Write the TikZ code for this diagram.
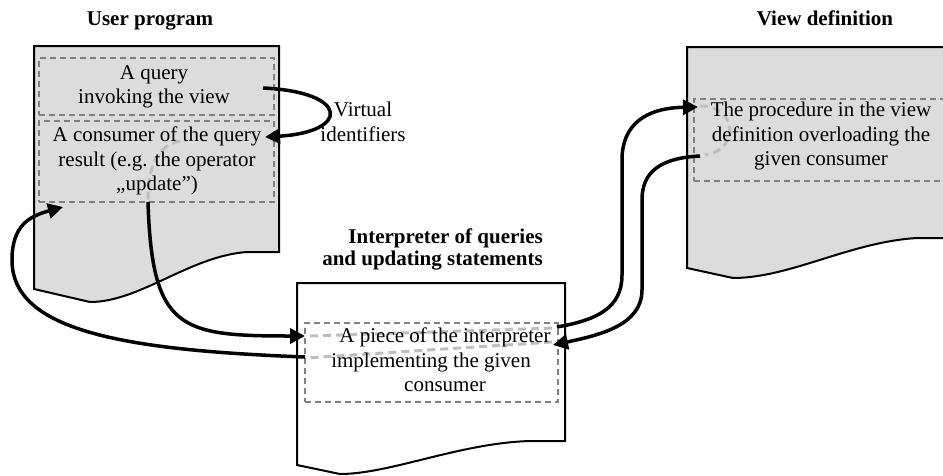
\documentclass[tikz,border=0pt]{standalone}
\usepackage{fontspec}
\setmainfont{Liberation Serif}
\usetikzlibrary{arrows.meta}
\definecolor{docgray}{HTML}{DCDCDC}
\definecolor{boxgray}{HTML}{808080}
\definecolor{flowgray}{HTML}{BEBEBE}
\begin{document}
\begin{tikzpicture}[x=1pt,y=-1pt,
  doc/.style={draw=black,line width=2pt,line join=miter},
  dbox/.style={draw=boxgray,line width=1.5pt,dash pattern=on 6pt off 4pt,inner sep=0pt},
  flow/.style={draw=flowgray,line width=3pt,dash pattern=on 8pt off 5pt},
  conn/.style={draw=black,line width=3.5pt,-{Triangle[length=15pt,width=15pt]}},
  txt/.style={font=\fontsize{21}{24.5}\selectfont,align=center,inner sep=0pt},
  ttl/.style={font=\fontsize{21}{22}\selectfont\bfseries,inner sep=0pt}]
\useasboundingbox (0,0) rectangle (943,475);

% documents
\filldraw[doc,fill=docgray] (34,46) -- (279,46) -- (279,252) -- (247,252)
  .. controls (190,256) and (140,302) .. (90,302) -- (34,289) -- cycle;
\filldraw[doc,fill=docgray] (687,47) -- (950,47) -- (950,238) -- (917,238)
  .. controls (850,242) and (790,278) .. (733,278) -- (687,268) -- cycle;
\filldraw[doc,fill=white] (297,283) -- (565,283) -- (565,441) -- (530,441)
  .. controls (460,443) and (390,474) .. (340,474) -- (297,465) -- cycle;

% titles
\node[ttl,anchor=base] (tuser) at (150,25) {User program};
\node[ttl,anchor=base] (tview) at (825,25) {View definition};
\node[ttl,align=right,anchor=east] (tint) at (543,249) {Interpreter of queries\\and updating statements};

% dashed boxes
\node[dbox,minimum width=235pt,minimum height=57pt] (qbox) at (156.5,86.5) {};
\node[dbox,minimum width=235pt,minimum height=81pt] (cbox) at (156.5,161.5) {};
\node[dbox,minimum width=270pt,minimum height=82pt,anchor=north west] (vbox) at (693,98) {};
\node[dbox,minimum width=253pt,minimum height=79pt] (ibox) at (431.5,362.5) {};

% light flow lines
\draw[flow] (180,141) .. controls (157,146) and (148,165) .. (148,202);
\draw[flow] (310,336) -- (555,328);
\draw[flow] (552,342) -- (306,358);
\draw[flow] (700,106) .. controls (738,106) and (740,150) .. (705,155);

% texts
\node[txt] (tq) at (154,87) {A query\\invoking the view};
\node[txt] (tc) at (157,161) {A consumer of the query\\result (e.g. the operator\\,,update'')};
\node[txt] (tv) at (821,136) {The procedure in the view\\definition overloading the\\given consumer};
\node[txt] (ti) at (445,360) {A piece of the interpreter\\implementing the given\rule{28pt}{0pt}\\consumer};
\node[txt] (tvi) at (363,122) {Virtual\\identifiers};

% connection points
\coordinate (q1) at (263,88);
\coordinate (c1) at (265,137);
\coordinate (c2) at (148,202);
\coordinate (c3) at (63,207);
\coordinate (i1) at (305,336);
\coordinate (i2) at (305,357);
\coordinate (i3) at (557,327);
\coordinate (i4) at (553,345);
\coordinate (v1) at (698,107);
\coordinate (v2) at (700,156);

% arrows
\draw[conn] (q1) .. controls (350,92) and (350,132) .. (c1);
\draw[conn] (c2) .. controls (152,330) and (180,336) .. (i1);
\draw[conn] (i2) .. controls (120,350) and (12,330) .. (12,260)
  .. controls (12,225) and (30,216) .. (c3);
\draw[conn] (i3) .. controls (597,320) and (622,308) .. (622,275) -- (622,160)
  .. controls (622,125) and (645,108) .. (v1);
\draw[conn] (v2) .. controls (660,158) and (642,172) .. (642,200) -- (642,290)
  .. controls (642,325) and (600,335) .. (i4);
\end{tikzpicture}
\end{document}
